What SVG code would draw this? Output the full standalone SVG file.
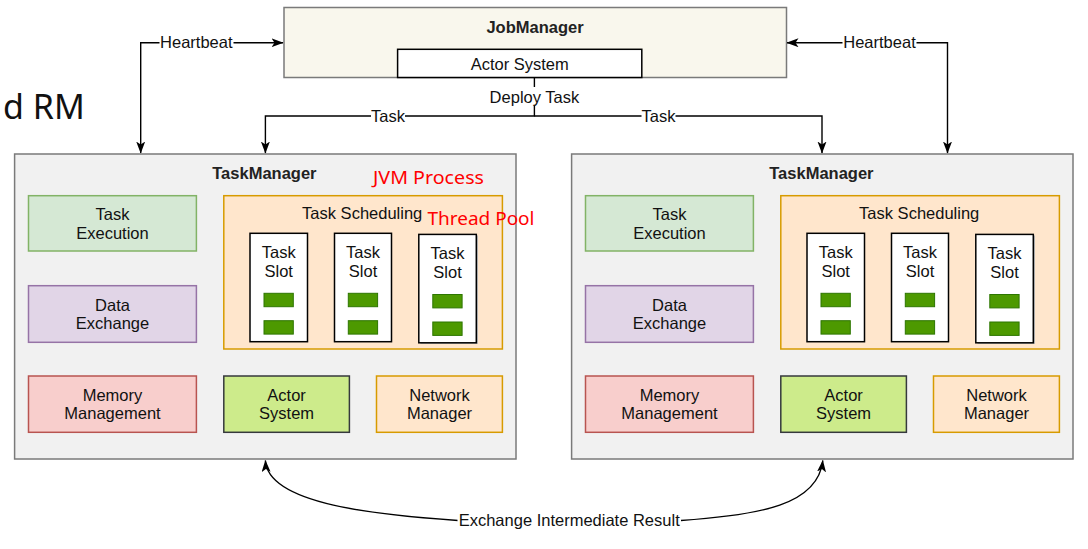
<svg xmlns="http://www.w3.org/2000/svg" width="1088" height="549" viewBox="0 0 1088 549">
<style>
.t{font-family:"Liberation Sans",Arial,sans-serif;font-size:16.5px;fill:#111;text-anchor:middle;dominant-baseline:central}
.b{font-weight:bold;fill:#222}
.red{font-family:"Noto Sans","Open Sans",sans-serif;font-size:18px;fill:#ff0000;text-anchor:middle;dominant-baseline:central}
.big{font-family:"Noto Sans","Open Sans",sans-serif;font-size:34px;fill:#111}
.tm{fill:#f1f1f1;stroke:#7a7a7a;stroke-width:1.5}
.exe{fill:#d5e8d4;stroke:#82b366;stroke-width:1.5}
.dat{fill:#e1d5e7;stroke:#9673a6;stroke-width:1.5}
.mem{fill:#f8cecc;stroke:#b85450;stroke-width:1.5}
.act{fill:#cdeb8b;stroke:#36393d;stroke-width:1.5}
.org{fill:#ffe6cc;stroke:#d79b00;stroke-width:1.5}
.slot{fill:#ffffff;stroke:#000;stroke-width:1.5}
.bar{fill:#4d9900;stroke:#2d7600;stroke-width:1}
.ln{fill:none;stroke:#000;stroke-width:1.4}
.lb{fill:#ffffff}
</style>
<defs>
<marker id="arr" markerUnits="userSpaceOnUse" markerWidth="12" markerHeight="10" refX="11.5" refY="4.5" orient="auto-start-reverse">
<path d="M0,0 L12,4.5 L0,9 L3,4.5 z" fill="#000"/>
</marker>
<g id="tmbody">
<rect class="tm" x="14.6" y="154" width="501.4" height="305"/>
<text class="t b" x="264.4" y="172.7">TaskManager</text>
<rect class="exe" x="28.5" y="195.7" width="167.9" height="55.3"/>
<text class="t" x="112.5" y="214.3">Task</text>
<text class="t" x="112.5" y="233.3">Execution</text>
<rect class="dat" x="28.5" y="285.7" width="167.9" height="56.6"/>
<text class="t" x="112.5" y="304.7">Data</text>
<text class="t" x="112.5" y="323.3">Exchange</text>
<rect class="org" x="223.8" y="195.7" width="278.6" height="153.3"/>
<text class="t" x="362.2" y="213.3">Task Scheduling</text>
<rect class="slot" x="250" y="233.3" width="57.5" height="108.4"/>
<text class="t" x="278.7" y="251.7">Task</text>
<text class="t" x="278.7" y="271">Slot</text>
<rect class="bar" x="264" y="293.3" width="29.3" height="13.4"/>
<rect class="bar" x="264" y="320.7" width="29.3" height="13.4"/>
<rect class="slot" x="334.5" y="233.3" width="57" height="108.4"/>
<text class="t" x="363" y="251.7">Task</text>
<text class="t" x="363" y="271">Slot</text>
<rect class="bar" x="348.3" y="293.3" width="29.3" height="13.4"/>
<rect class="bar" x="348.3" y="320.7" width="29.3" height="13.4"/>
<rect x="420.5" y="235.5" width="57.5" height="108.4" fill="#b5b5b5"/>
<rect class="slot" x="418.8" y="234.4" width="57.5" height="108.4"/>
<text class="t" x="447.5" y="253">Task</text>
<text class="t" x="447.5" y="272.3">Slot</text>
<rect class="bar" x="432.8" y="294.5" width="29.3" height="13.4"/>
<rect class="bar" x="432.8" y="322" width="29.3" height="13.4"/>
<rect class="mem" x="28.5" y="376" width="167.9" height="56.3"/>
<text class="t" x="112.5" y="395">Memory</text>
<text class="t" x="112.5" y="413.3">Management</text>
<rect class="act" x="223.8" y="376" width="125.6" height="56.3"/>
<text class="t" x="286.6" y="395">Actor</text>
<text class="t" x="286.6" y="413.3">System</text>
<rect class="org" x="376.5" y="376" width="125.9" height="56.3"/>
<text class="t" x="439.5" y="395">Network</text>
<text class="t" x="439.5" y="413.3">Manager</text>
</g>
</defs>

<g id="slide-text">
<text class="big" x="3" y="119.3">d RM</text>
</g>

<g id="jobmanager">
<rect x="284" y="7.5" width="502.5" height="70" fill="#f9f7ed" stroke="#7a7a7a" stroke-width="1.5"/>
<text class="t b" x="535" y="27">JobManager</text>
</g>
<g id="jm-actor-system">
<rect x="397.6" y="49.3" width="244.2" height="28.2" fill="#ffffff" stroke="#000" stroke-width="1.5"/>
<text class="t" x="519.7" y="63.5">Actor System</text>
</g>

<g id="taskmanager-1">
<use href="#tmbody"/>
<text class="red" x="428.5" y="176.7" textLength="111" lengthAdjust="spacingAndGlyphs">JVM Process</text>
<text class="red" x="481" y="218.3" textLength="107" lengthAdjust="spacingAndGlyphs">Thread Pool</text>
</g>

<g id="taskmanager-2" transform="translate(557 0)">
<use href="#tmbody"/>
</g>

<g id="connectors">
<path class="ln" d="M140.7 153 V42.7 H283" marker-start="url(#arr)" marker-end="url(#arr)"/>
<path class="ln" d="M947.5 153 V42.7 H787" marker-start="url(#arr)" marker-end="url(#arr)"/>
<path class="ln" d="M534.4 77.5 V116 H265.4 V153" marker-end="url(#arr)"/>
<path class="ln" d="M534.4 116 H822 V153" marker-end="url(#arr)"/>
<path class="ln" d="M458 520.5 C380 515 268 505 265.4 460.5" marker-end="url(#arr)"/>
<path class="ln" d="M681 520.5 C760 515 818 505 822.8 460.5" marker-end="url(#arr)"/>
<rect class="lb" x="159.5" y="34" width="74" height="17"/>
<text class="t" x="196.3" y="42.3">Heartbeat</text>
<rect class="lb" x="842.5" y="34" width="74" height="17"/>
<text class="t" x="879.5" y="42.3">Heartbeat</text>
<rect class="lb" x="488" y="87" width="93" height="19"/>
<text class="t" x="534.4" y="96.5">Deploy Task</text>
<rect class="lb" x="371" y="108" width="34" height="16"/>
<text class="t" x="388" y="116">Task</text>
<rect class="lb" x="641.5" y="108" width="34" height="16"/>
<text class="t" x="658.5" y="116">Task</text>
<rect class="lb" x="457.5" y="511" width="223.5" height="19"/>
<text class="t" x="569.2" y="520.3">Exchange Intermediate Result</text>
</g>
</svg>
